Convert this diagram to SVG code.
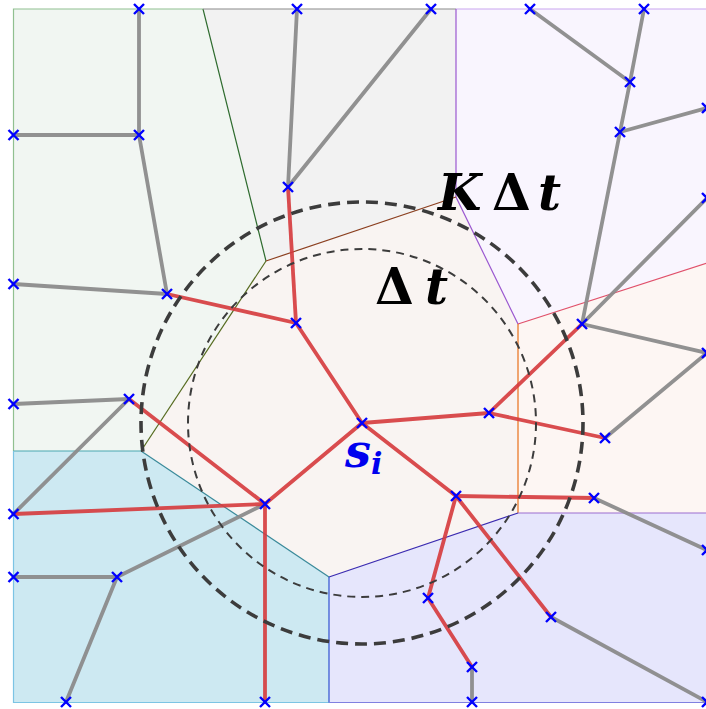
<svg xmlns="http://www.w3.org/2000/svg" xmlns:xlink="http://www.w3.org/1999/xlink" width="706" height="709" viewBox="0 0 706 709">
<style>
.cell{stroke:none}
.b{fill:none;stroke-width:1.2}
.g{stroke:#8c8c8c;stroke-width:3.8;stroke-linecap:round;opacity:0.95}
.r{stroke:#d63a3d;stroke-width:3.8;stroke-linecap:round;opacity:0.9}
.math{font-family:"DejaVu Serif","Liberation Serif",serif;font-weight:bold}
.it{font-style:italic}
</style>
<defs>
<path id="x" d="M-5,-5L5,5M-5,5L5,-5" stroke="#0000ff" stroke-width="2.4" fill="none"/>
</defs>
<g id="cells">
<polygon id="cell-green" class="cell" fill="#f1f6f2" points="13.5,9 203,9 266,261 141,451 13.5,451"/>
<polygon id="cell-gray" class="cell" fill="#f2f2f2" points="203,9 456,9 456,197 266,261"/>
<polygon id="cell-purple" class="cell" fill="#f9f5fe" points="456,9 710,9 710,262 518,324 456,197"/>
<polygon id="cell-orange" class="cell" fill="#fdf6f3" points="518,324 710,262 710,513 518,513"/>
<polygon id="cell-center" class="cell" fill="#f9f4f2" points="266,261 456,197 518,324 518,513 329,577 141,451"/>
<polygon id="cell-cyan" class="cell" fill="#cde9f2" points="13.5,451 141,451 329,577 329,702.5 13.5,702.5"/>
<polygon id="cell-lavender" class="cell" fill="#e6e6fc" points="329,577 518,513 710,513 710,702.5 329,702.5"/>
</g>
<g id="cell-borders">
<polyline class="b" stroke="#90c090" points="203,9 13.5,9 13.5,451"/>
<line class="b" stroke="#2e6b2e" x1="203" y1="9" x2="266" y2="261"/>
<line class="b" stroke="#8a8a8a" x1="203" y1="9" x2="456" y2="9"/>
<line class="b" stroke="#c9a6f0" x1="456" y1="9" x2="710" y2="9"/>
<polyline class="b" stroke="#9b59d0" points="456,9 456,197 518,324"/>
<line class="b" stroke="#8b3f1f" x1="266" y1="261" x2="456" y2="197"/>
<line class="b" stroke="#556b1f" x1="266" y1="261" x2="141" y2="451"/>
<line class="b" stroke="#e0506a" x1="518" y1="324" x2="710" y2="262"/>
<line class="b" stroke="#e8701a" x1="518" y1="324" x2="518" y2="513"/>
<line class="b" stroke="#9c6cd0" x1="518" y1="513" x2="710" y2="513"/>
<line class="b" stroke="#3a2ab0" x1="329" y1="577" x2="518" y2="513"/>
<line class="b" stroke="#4aa8b0" x1="13.5" y1="451" x2="141" y2="451"/>
<line class="b" stroke="#3a8a9a" x1="141" y1="451" x2="329" y2="577"/>
<polyline class="b" stroke="#7cc4e4" points="13.5,451 13.5,702.5 329,702.5"/>
<line class="b" stroke="#3050d0" x1="329" y1="577" x2="329" y2="702.5"/>
<line class="b" stroke="#8080e0" x1="329" y1="702.5" x2="710" y2="702.5"/>
</g>
<g id="connectors">
<line class="g" x1="139" y1="9" x2="139" y2="135"/>
<line class="g" x1="139" y1="135" x2="13.5" y2="135"/>
<line class="g" x1="139" y1="135" x2="167" y2="294"/>
<line class="g" x1="167" y1="294" x2="13.5" y2="284"/>
<line class="g" x1="129" y1="399" x2="13.5" y2="404"/>
<line class="g" x1="129" y1="399" x2="13.5" y2="514"/>
<line class="g" x1="297" y1="9" x2="288" y2="187"/>
<line class="g" x1="431" y1="9" x2="288" y2="187"/>
<line class="g" x1="530" y1="9" x2="630" y2="82"/>
<line class="g" x1="644" y1="9" x2="630" y2="82"/>
<line class="g" x1="630" y1="82" x2="620" y2="132"/>
<line class="g" x1="620" y1="132" x2="707" y2="108"/>
<line class="g" x1="620" y1="132" x2="582" y2="324"/>
<line class="g" x1="707" y1="198" x2="582" y2="324"/>
<line class="g" x1="582" y1="324" x2="707" y2="353"/>
<line class="g" x1="707" y1="353" x2="605" y2="438"/>
<line class="g" x1="594" y1="498" x2="707" y2="550"/>
<line class="g" x1="472" y1="667" x2="472" y2="702"/>
<line class="g" x1="551" y1="617" x2="707" y2="702"/>
<line class="g" x1="13.5" y1="577" x2="117" y2="577"/>
<line class="g" x1="117" y1="577" x2="66" y2="702"/>
<line class="g" x1="117" y1="577" x2="265" y2="504"/>
<line class="r" x1="167" y1="294" x2="296" y2="323"/>
<line class="r" x1="288" y1="187" x2="296" y2="323"/>
<line class="r" x1="296" y1="323" x2="362" y2="423"/>
<line class="r" x1="129" y1="399" x2="265" y2="504"/>
<line class="r" x1="362" y1="423" x2="489" y2="413"/>
<line class="r" x1="362" y1="423" x2="456" y2="496"/>
<line class="r" x1="362" y1="423" x2="265" y2="504"/>
<line class="r" x1="489" y1="413" x2="582" y2="324"/>
<line class="r" x1="489" y1="413" x2="605" y2="438"/>
<line class="r" x1="456" y1="496" x2="594" y2="498"/>
<line class="r" x1="456" y1="496" x2="428" y2="598"/>
<line class="r" x1="456" y1="496" x2="551" y2="617"/>
<line class="r" x1="428" y1="598" x2="472" y2="667"/>
<line class="r" x1="265" y1="504" x2="13.5" y2="514"/>
<line class="r" x1="265" y1="504" x2="265" y2="702"/>
</g>
<g id="ranges">
<circle cx="362" cy="423" r="174" fill="none" stroke="#3c3c3c" stroke-width="2" stroke-dasharray="8 6"/>
<circle cx="362" cy="423" r="221" fill="none" stroke="#3c3c3c" stroke-width="3.6" stroke-dasharray="12 7"/>
</g>
<g id="nodes">
<use xlink:href="#x" x="139" y="9"/><use xlink:href="#x" x="139" y="135"/><use xlink:href="#x" x="13.5" y="135"/>
<use xlink:href="#x" x="167" y="294"/><use xlink:href="#x" x="13.5" y="284"/><use xlink:href="#x" x="129" y="399"/>
<use xlink:href="#x" x="13.5" y="404"/>
<use xlink:href="#x" x="297" y="9"/><use xlink:href="#x" x="431" y="9"/><use xlink:href="#x" x="288" y="187"/>
<use xlink:href="#x" x="296" y="323"/><use xlink:href="#x" x="362" y="423"/><use xlink:href="#x" x="489" y="413"/>
<use xlink:href="#x" x="456" y="496"/><use xlink:href="#x" x="265" y="504"/>
<use xlink:href="#x" x="530" y="9"/><use xlink:href="#x" x="644" y="9"/><use xlink:href="#x" x="630" y="82"/>
<use xlink:href="#x" x="620" y="132"/><use xlink:href="#x" x="707" y="108"/><use xlink:href="#x" x="707" y="198"/>
<use xlink:href="#x" x="582" y="324"/><use xlink:href="#x" x="707" y="353"/><use xlink:href="#x" x="605" y="438"/>
<use xlink:href="#x" x="594" y="498"/><use xlink:href="#x" x="707" y="550"/>
<use xlink:href="#x" x="428" y="598"/><use xlink:href="#x" x="551" y="617"/><use xlink:href="#x" x="472" y="667"/>
<use xlink:href="#x" x="472" y="702"/><use xlink:href="#x" x="707" y="702"/>
<use xlink:href="#x" x="13.5" y="514"/><use xlink:href="#x" x="13.5" y="577"/><use xlink:href="#x" x="117" y="577"/>
<use xlink:href="#x" x="66" y="702"/><use xlink:href="#x" x="265" y="702"/>
</g>
<g id="labels">
<text class="math" font-size="50" y="210"><tspan class="it" x="438">K</tspan><tspan x="492">Δ</tspan><tspan class="it" x="538">t</tspan></text>
<text class="math" font-size="50" y="304"><tspan x="375">Δ</tspan><tspan class="it" x="425">t</tspan></text>
<text class="math" fill="#0000ee" y="467"><tspan class="it" font-size="46" x="345">s</tspan><tspan class="it" font-size="30" x="371" y="474">i</tspan></text>
</g>
</svg>
